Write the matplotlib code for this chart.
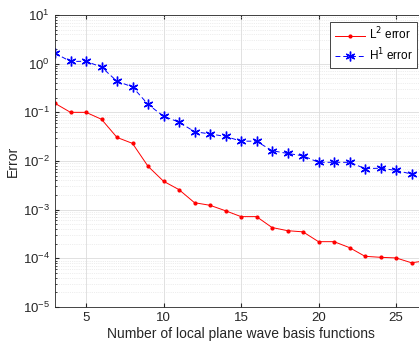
import numpy as np
import matplotlib
matplotlib.use("Agg")
import matplotlib.pyplot as plt
from matplotlib.ticker import LogLocator, NullFormatter

# number of local plane wave basis functions
n = np.arange(3, 28)

# L2 and H1 errors
l2_err = [0.153, 0.100, 0.100, 0.072, 0.0305, 0.023, 0.0078, 0.00384, 0.00258,
          0.00139, 0.00123, 9.5e-4, 7.2e-4, 7.2e-4, 4.3e-4, 3.7e-4, 3.5e-4,
          2.2e-4, 2.2e-4, 1.66e-4, 1.1e-4, 1.05e-4, 1.02e-4, 8.1e-5, 9.0e-5]
h1_err = [1.64, 1.11, 1.12, 0.85, 0.435, 0.333, 0.146, 0.083, 0.063, 0.040,
          0.036, 0.032, 0.0256, 0.0255, 0.0163, 0.0143, 0.0128, 0.0094, 0.0094,
          0.0094, 0.0070, 0.0071, 0.0064, 0.0054, 0.0058]
y_ticks = [1e-5, 1e-4, 1e-3, 1e-2, 1e-1, 1e0, 1e1]

plt.rcParams['font.family'] = ['Liberation Sans', 'DejaVu Sans']

fig = plt.figure(figsize=(4.19, 3.49), dpi=100)
W, H = 419, 349
ax = fig.add_axes([55 / W, (H - 307) / H, (427 - 55) / W, (307 - 15) / H])

ax.semilogy(n, l2_err, '-', color='#ff0000', marker='.', markersize=4,
            linewidth=0.7, label='L$^2$ error')
ax.semilogy(n, h1_err, '--', color='#0000ff', marker=(6, 2, 0), markersize=7,
            markeredgewidth=1.0, linewidth=0.7, dashes=(5, 3), label='H$^1$ error')

ax.set_xlim(3, 27)
ax.set_ylim(1e-5, 1e1)
ax.set_xticks([5, 10, 15, 20, 25])
ax.set_yticks(y_ticks)
ax.yaxis.set_minor_locator(LogLocator(base=10, subs=np.arange(2, 10), numticks=20))
ax.yaxis.set_minor_formatter(NullFormatter())

ax.grid(True, which='major', color='#dcdcdc', linewidth=0.6)
ax.grid(True, which='minor', axis='y', color='#dedede', linewidth=0.5, linestyle=':')
ax.set_axisbelow(True)

ax.tick_params(direction='in', which='both', top=True, right=True,
               labelsize=9.5, colors='#262626', length=3)
ax.tick_params(which='minor', length=1.5)
for s in ax.spines.values():
    s.set_color('#262626')
    s.set_linewidth(0.6)

ax.set_xlabel('Number of local plane wave basis functions', fontsize=10,
              color='#262626', labelpad=2)
ax.set_ylabel('Error', fontsize=10, color='#262626', labelpad=2)

leg = ax.legend(loc='upper right', bbox_to_anchor=(417 / W, 1 - 22 / H),
                bbox_transform=fig.transFigure, borderaxespad=0,
                fontsize=8.5, fancybox=False, edgecolor='#262626',
                handlelength=2.6, handletextpad=0.3, borderpad=0.35,
                labelspacing=0.35, framealpha=1)
leg.get_frame().set_linewidth(0.6)

fig.savefig('out.png', dpi=100)
